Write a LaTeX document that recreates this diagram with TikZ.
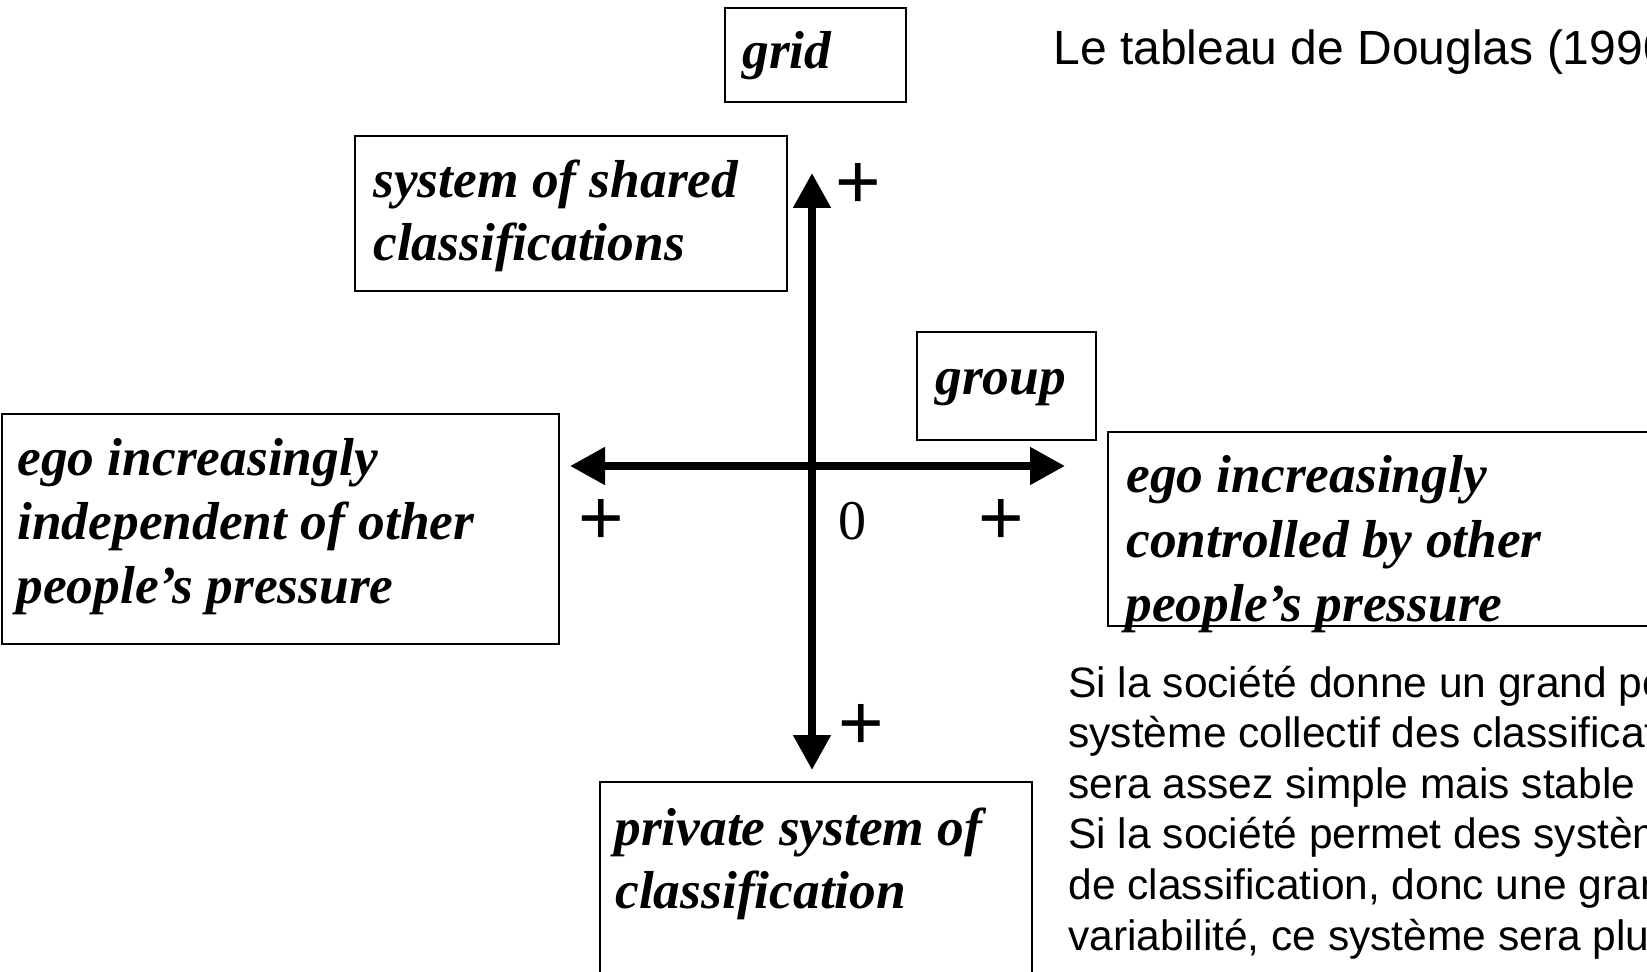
\documentclass[tikz,border=0pt]{standalone}
\usepackage{fontspec}
\setmainfont{Liberation Serif}
\newfontfamily\arialfont{Liberation Sans}
\usetikzlibrary{arrows.meta}
\begin{document}
\begin{tikzpicture}[x=0.5pt,y=-0.5pt,
  frame/.style={draw=black, line width=0.8pt, inner sep=0pt, anchor=north west},
  lbl/.style={font=\fontsize{26.7pt}{30pt}\selectfont\bfseries\itshape, inner sep=0pt, anchor=base west},
  frtext/.style={font=\arialfont\fontsize{21.25pt}{25pt}\selectfont, inner sep=0pt, anchor=base west},
  sign/.style={font=\arialfont\fontsize{39pt}{40pt}\selectfont, inner sep=0pt},
  zero/.style={font=\fontsize{28pt}{30pt}\selectfont, inner sep=0pt},
  axis/.style={line width=4pt, {Triangle[length=17.5pt,width=18pt]}-{Triangle[length=17.5pt,width=18pt]}}]
\useasboundingbox (0,0) rectangle (1647,972);
\fill[white] (0,0) rectangle (1647,972);
\clip (0,0) rectangle (1647,972);

% boxes
\node[frame, minimum width=90.5pt, minimum height=47pt] (gridbox) at (724,7) {};
\node[frame, minimum width=216pt, minimum height=77.5pt] (sharedbox) at (354,135) {};
\node[frame, minimum width=89.5pt, minimum height=54pt] (groupbox) at (916,331) {};
\node[frame, minimum width=278.5pt, minimum height=115pt] (leftbox) at (1,413) {};
\node[frame, minimum width=300pt, minimum height=97pt] (rightbox) at (1107,431) {};
\node[frame, minimum width=216pt, minimum height=125pt] (bottombox) at (599,781) {};

% box texts
\node[lbl] (gridtxt) at (742,69) {grid};
\node[lbl] (shared1) at (373,198) {system of shared};
\node[lbl] (shared2) at (373,261) {classifications};
\node[lbl] (grouptxt) at (935,395) {group};
\node[lbl] (left1) at (17,475) {ego increasingly};
\node[lbl] (left2) at (17,539) {independent of other};
\node[lbl] (left3) at (16,603) {people’s pressure};
\node[lbl] (right1) at (1126,492) {ego increasingly};
\node[lbl] (right2) at (1126,557) {controlled by other};
\node[lbl] (right3) at (1125,621) {people’s pressure};
\node[lbl] (bottom1) at (614,845) {private system of};
\node[lbl] (bottom2) at (615,908) {classification};

% title and paragraph
\node[frtext, font=\arialfont\fontsize{24pt}{28pt}\selectfont] (title) at (1053,65) {Le tableau de Douglas (1990};
\node[frtext] (p1) at (1068,697) {Si la société donne un grand po};
\node[frtext] (p2) at (1068,747.6) {système collectif des classificat};
\node[frtext] (p3) at (1068,798.2) {sera assez simple mais stable};
\node[frtext] (p4) at (1068,848.8) {Si la société permet des systèm};
\node[frtext] (p5) at (1068,899.4) {de classification, donc une gran};
\node[frtext] (p6) at (1068,950) {variabilité, ce système sera plu};

% axes
\coordinate (vtop) at (812,173);
\coordinate (vbot) at (812,770);
\coordinate (hl) at (570,466);
\coordinate (hr) at (1065,466);
\draw[axis] (vbot) -- (vtop);
\draw[axis] (hl) -- (hr);

% signs
\node[sign] (ptop) at (858,186) {+};
\node[sign] (pleft) at (601,522) {+};
\node[sign] (pright) at (1001,522) {+};
\node[sign] (pbot) at (861,727) {+};
\node[zero] (origin) at (852,521) {0};
\end{tikzpicture}
\end{document}
